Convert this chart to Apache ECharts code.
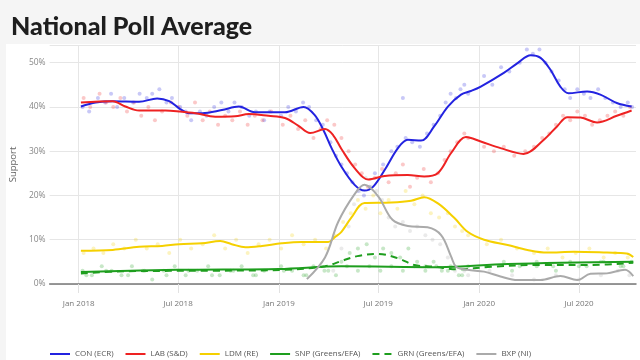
<!DOCTYPE html>
<html>
<head>
<meta charset="utf-8">
<script src="https://cdn.jsdelivr.net/npm/echarts@6/dist/echarts.min.js"></script>
<style>
html,body{margin:0;padding:0;background:#f5f5f5;}
#chart{width:640px;height:360px;}
</style>
</head>
<body>
<div id="chart"></div>
<script>
// ---- tick labels ----
const tickDates = ['2018-01-01','2018-07-01','2019-01-01','2019-07-01','2020-01-01','2020-07-01'];
const tickLabels = ['Jan 2018','Jul 2018','Jan 2019','Jul 2019','Jan 2020','Jul 2020'];
const partyNames = ['CON (ECR)','LAB (S&D)','LDM (RE)','SNP (Greens/EFA)','GRN (Greens/EFA)','BXP (NI)'];

// ---- trend lines [date, %] ----
const conLine = [['2018-01-05',40.1],['2018-02-01',41.0],['2018-03-04',41.3],['2018-04-21',41.2],['2018-05-24',41.9],['2018-06-15',41.3],['2018-07-03',39.7],['2018-07-21',38.6],['2018-08-14',38.6],['2018-09-19',39.3],['2018-10-20',40.1],['2018-11-18',38.8],['2019-01-12',38.8],['2019-02-15',40.0],['2019-03-07',38.2],['2019-03-23',34.8],['2019-04-07',30.7],['2019-04-25',26.5],['2019-05-19',22.4],['2019-06-06',21.1],['2019-06-22',22.0],['2019-07-13',25.8],['2019-08-06',30.7],['2019-08-24',32.6],['2019-09-17',32.4],['2019-10-11',35.6],['2019-11-05',40.1],['2019-11-29',42.8],['2019-12-17',43.6],['2020-01-04',44.6],['2020-02-15',47.7],['2020-03-11',49.9],['2020-04-04',51.7],['2020-04-22',51.1],['2020-05-10',48.4],['2020-05-28',44.6],['2020-06-12',43.1],['2020-07-16',43.5],['2020-08-09',42.8],['2020-09-08',40.9],['2020-10-05',40.1]];
const labLine = [['2018-01-05',41.0],['2018-03-04',41.3],['2018-03-27',40.1],['2018-04-21',39.2],['2018-06-08',39.2],['2018-07-03',39.0],['2018-08-02',38.6],['2018-09-07',37.8],['2018-10-13',37.9],['2018-11-07',38.4],['2018-12-13',38.0],['2019-01-12',37.5],['2019-02-05',35.8],['2019-02-27',34.1],['2019-03-26',35.0],['2019-04-10',33.6],['2019-04-25',30.5],['2019-05-19',26.2],['2019-06-13',23.6],['2019-07-13',24.4],['2019-08-24',24.6],['2019-09-23',24.3],['2019-10-18',25.1],['2019-11-11',29.6],['2019-12-08',33.2],['2020-01-04',32.2],['2020-02-09',30.7],['2020-03-22',29.4],['2020-04-28',32.6],['2020-05-22',35.6],['2020-06-10',37.7],['2020-07-04',37.6],['2020-08-03',36.5],['2020-09-08',38.0],['2020-10-05',39.2]];
const ldmLine = [['2018-01-05',7.5],['2018-03-04',7.7],['2018-04-21',8.4],['2018-06-02',8.6],['2018-07-03',9.0],['2018-08-14',9.2],['2018-09-16',9.7],['2018-10-07',9.0],['2018-11-01',8.3],['2018-12-01',8.6],['2019-01-06',9.2],['2019-02-12',9.5],['2019-04-01',9.5],['2019-04-13',10.6],['2019-04-25',11.8],['2019-05-13',15.0],['2019-06-06',18.3],['2019-07-25',18.4],['2019-08-30',18.8],['2019-09-23',19.6],['2019-10-18',18.2],['2019-11-17',14.9],['2019-12-11',11.8],['2020-01-10',10.0],['2020-02-22',8.8],['2020-03-29',7.7],['2020-05-04',7.1],['2020-06-22',7.3],['2020-08-21',7.1],['2020-09-26',6.9],['2020-10-08',6.1]];
const snpLine = [['2018-01-05',2.7],['2018-07-01',3.2],['2019-01-01',3.4],['2019-04-25',4.0],['2019-10-18',3.8],['2020-02-22',4.5],['2020-10-08',5.0]];
const grnLine = [['2018-01-05',2.4],['2018-04-01',2.9],['2018-09-01',3.0],['2019-01-10',3.2],['2019-03-26',4.0],['2019-04-25',5.2],['2019-05-24',6.3],['2019-07-01',6.8],['2019-08-06',5.8],['2019-09-05',4.3],['2019-10-11',3.9],['2019-11-23',3.3],['2020-01-22',3.9],['2020-04-22',4.3],['2020-07-22',4.3],['2020-10-08',4.8]];
const bxpLine = [['2019-02-21',1.1],['2019-03-26',6.0],['2019-04-19',14.0],['2019-05-19',20.3],['2019-06-06',22.4],['2019-07-01',19.8],['2019-07-27',14.5],['2019-08-24',13.1],['2019-09-29',12.8],['2019-10-24',11.0],['2019-11-11',6.2],['2019-11-20',3.9],['2019-12-11',3.2],['2020-01-10',2.8],['2020-02-09',1.7],['2020-03-11',0.9],['2020-04-22',0.9],['2020-05-28',1.8],['2020-06-28',0.9],['2020-07-22',2.3],['2020-08-21',2.4],['2020-09-23',3.2],['2020-10-08',1.8]];

// ---- individual polls [date, %] ----
const conPolls = [['2018-01-08',40],['2018-01-20',39],['2018-02-05',42],['2018-02-18',41],['2018-03-01',43],['2018-03-12',40],['2018-03-25',42],['2018-04-10',41],['2018-04-22',43],['2018-05-05',42],['2018-05-15',43],['2018-05-28',44],['2018-06-10',41],['2018-06-20',42],['2018-07-05',40],['2018-07-15',39],['2018-07-25',37],['2018-08-10',39],['2018-08-22',38],['2018-09-05',40],['2018-09-18',41],['2018-10-01',39],['2018-10-12',41],['2018-10-25',40],['2018-11-08',38],['2018-11-20',39],['2018-12-05',37],['2018-12-15',39],['2019-01-05',38],['2019-01-18',40],['2019-02-01',39],['2019-02-14',41],['2019-02-25',40],['2019-03-10',37],['2019-03-22',36],['2019-04-05',32],['2019-04-15',29],['2019-04-25',27],['2019-05-05',25],['2019-05-15',23],['2019-05-25',21],['2019-06-05',20],['2019-06-15',22],['2019-06-25',25],['2019-07-10',27],['2019-07-25',30],['2019-08-05',31],['2019-08-15',42],['2019-08-20',33],['2019-09-01',32],['2019-09-15',31],['2019-09-28',34],['2019-10-10',36],['2019-10-22',38],['2019-11-01',41],['2019-11-10',43],['2019-11-20',42],['2019-11-28',44],['2019-12-05',45],['2019-12-12',43],['2020-01-10',47],['2020-01-25',45],['2020-02-10',49],['2020-02-25',48],['2020-03-15',50],['2020-03-28',53],['2020-04-08',52],['2020-04-20',53],['2020-05-01',50],['2020-05-12',48],['2020-05-25',46],['2020-06-05',44],['2020-06-15',42],['2020-06-28',44],['2020-07-10',43],['2020-07-22',42],['2020-08-05',44],['2020-08-18',42],['2020-09-01',41],['2020-09-15',40],['2020-09-28',41],['2020-10-06',40]];
const labPolls = [['2018-01-10',42],['2018-01-22',40],['2018-02-08',43],['2018-02-20',41],['2018-03-05',40],['2018-03-18',42],['2018-03-30',39],['2018-04-12',41],['2018-04-25',38],['2018-05-08',40],['2018-05-20',37],['2018-06-02',39],['2018-06-18',41],['2018-07-02',40],['2018-07-18',38],['2018-08-01',41],['2018-08-15',37],['2018-08-28',39],['2018-09-12',36],['2018-09-25',38],['2018-10-08',37],['2018-10-22',39],['2018-11-05',36],['2018-11-18',38],['2018-12-02',37],['2018-12-18',39],['2019-01-08',36],['2019-01-22',38],['2019-02-05',35],['2019-02-18',37],['2019-03-05',33],['2019-03-18',35],['2019-03-30',37],['2019-04-12',36],['2019-04-25',33],['2019-05-08',30],['2019-05-20',27],['2019-06-01',25],['2019-06-12',22],['2019-06-25',24],['2019-07-08',26],['2019-07-20',23],['2019-08-02',25],['2019-08-15',27],['2019-08-28',22],['2019-09-10',24],['2019-09-22',26],['2019-10-05',23],['2019-10-18',25],['2019-10-30',28],['2019-11-10',30],['2019-11-22',32],['2019-12-05',34],['2019-12-12',33],['2020-01-10',31],['2020-01-28',30],['2020-02-15',31],['2020-03-05',29],['2020-03-25',30],['2020-04-10',31],['2020-04-25',33],['2020-05-08',34],['2020-05-20',36],['2020-06-02',38],['2020-06-15',37],['2020-06-28',39],['2020-07-12',38],['2020-07-25',36],['2020-08-08',37],['2020-08-22',38],['2020-09-05',39],['2020-09-20',38],['2020-10-02',40]];
const ldmPolls = [['2018-01-10',7],['2018-01-28',8],['2018-02-15',7],['2018-03-05',9],['2018-03-25',8],['2018-04-15',10],['2018-05-05',8],['2018-05-25',9],['2018-06-15',7],['2018-07-05',10],['2018-07-25',8],['2018-08-15',9],['2018-09-05',11],['2018-09-25',8],['2018-10-15',10],['2018-11-05',7],['2018-11-25',9],['2018-12-15',10],['2019-01-05',8],['2019-01-25',11],['2019-02-15',9],['2019-03-08',10],['2019-03-28',8],['2019-04-12',11],['2019-04-28',14],['2019-05-12',16],['2019-05-25',19],['2019-06-08',17],['2019-06-22',20],['2019-07-05',16],['2019-07-20',19],['2019-08-05',17],['2019-08-20',21],['2019-09-05',18],['2019-09-20',20],['2019-10-05',16],['2019-10-20',15],['2019-11-05',16],['2019-11-18',13],['2019-12-01',12],['2019-12-12',11],['2020-01-15',9],['2020-02-10',10],['2020-03-10',8],['2020-04-10',7],['2020-05-05',8],['2020-06-01',6],['2020-06-25',7],['2020-07-20',8],['2020-08-15',6],['2020-09-05',7],['2020-09-28',6]];
const snpPolls = [['2018-01-08',3],['2018-01-25',2],['2018-02-12',4],['2018-03-02',3],['2018-03-20',2],['2018-04-08',4],['2018-04-28',3],['2018-05-15',1],['2018-06-05',3],['2018-06-25',4],['2018-07-15',2],['2018-08-05',3],['2018-08-25',4],['2018-09-15',2],['2018-10-05',3],['2018-10-25',4],['2018-11-15',2],['2018-12-05',3],['2019-01-05',4],['2019-01-25',3],['2019-02-15',2],['2019-03-05',4],['2019-03-25',3],['2019-04-15',2],['2019-05-05',4],['2019-05-25',3],['2019-06-15',4],['2019-07-05',3],['2019-07-25',4],['2019-08-15',3],['2019-09-05',4],['2019-09-25',3],['2019-10-15',4],['2019-11-05',3],['2019-11-25',2],['2019-12-12',4],['2020-01-15',4],['2020-02-15',5],['2020-03-15',4],['2020-04-15',5],['2020-05-15',4],['2020-06-15',5],['2020-07-15',4],['2020-08-15',5],['2020-09-15',4],['2020-10-05',5]];
const grnPolls = [['2018-01-15',2],['2018-02-20',3],['2018-04-01',2],['2018-05-01',3],['2018-06-10',2],['2018-07-20',3],['2018-09-01',2],['2018-10-10',3],['2018-11-20',2],['2019-01-10',3],['2019-02-20',2],['2019-04-01',3],['2019-04-25',5],['2019-05-10',7],['2019-05-25',8],['2019-06-10',9],['2019-06-25',6],['2019-07-10',8],['2019-07-25',7],['2019-08-10',6],['2019-08-25',8],['2019-09-10',5],['2019-09-25',4],['2019-10-10',5],['2019-10-25',3],['2019-11-10',4],['2019-12-01',2],['2020-01-20',4],['2020-03-01',3],['2020-04-15',4],['2020-05-20',3],['2020-07-01',4],['2020-08-10',5],['2020-09-20',4]];
const bxpPolls = [['2019-04-10',3],['2019-04-25',8],['2019-05-08',13],['2019-05-18',18],['2019-05-28',21],['2019-06-08',24],['2019-06-18',22],['2019-06-28',21],['2019-07-08',19],['2019-07-20',15],['2019-08-01',13],['2019-08-15',14],['2019-08-28',12],['2019-09-10',13],['2019-09-25',11],['2019-10-08',10],['2019-10-22',9],['2019-11-05',6],['2019-11-18',3],['2019-12-05',3],['2019-12-12',2],['2020-01-20',3],['2020-03-01',2],['2020-04-10',1],['2020-05-20',2],['2020-07-01',1],['2020-08-10',2],['2020-09-10',3],['2020-10-01',2]];

function ts(s){const p=s.split('-');return Date.UTC(+p[0],+p[1]-1,+p[2]);}
function conv(arr){return arr.map(d=>[ts(d[0]),d[1]]);}

const colors = ['#2323e0','#ee2222','#f5d000','#1e9e1e','#1e9e1e','#aaaaaa'];
const lines = [conLine,labLine,ldmLine,snpLine,grnLine,bxpLine];
const polls = [conPolls,labPolls,ldmPolls,snpPolls,grnPolls,bxpPolls];
const tickTs = tickDates.map(ts);

const series = [];
polls.forEach((p,i)=>{
  series.push({name:'polls'+i,type:'scatter',data:conv(p),symbol:'circle',symbolSize:4,
    itemStyle:{color:colors[i],opacity:0.25},silent:true,z:1});
});
lines.forEach((l,i)=>{
  series.push({name:partyNames[i],type:'line',data:conv(l),smooth:0.35,symbol:'none',showSymbol:false,
    lineStyle:{color:colors[i],width:2,type:i===4?[7,5]:'solid'},itemStyle:{color:colors[i]},z:3});
});

const chart = echarts.init(document.getElementById('chart'));
chart.setOption({
  backgroundColor:'#f5f5f5',
  animation:false,
  textStyle:{fontFamily:'Open Sans'},
  title:{text:'National Poll Average',left:6,top:9,
    textStyle:{fontFamily:'Lato',fontWeight:900,fontSize:25,color:'#1e1e1e'}},
  graphic:[{type:'rect',left:6,top:44,shape:{width:640,height:320},style:{fill:'#ffffff'},z:-10,silent:true}],
  grid:{left:47,right:4,top:45,bottom:76},
  legend:{data:partyNames,left:44,top:345,itemWidth:20,itemHeight:8,itemGap:11,
    itemStyle:{opacity:0},
    textStyle:{color:'#555',fontSize:8,fontFamily:'Open Sans'}},
  xAxis:{type:'value',min:ts('2017-11-09'),max:ts('2020-10-13'),
    axisLine:{show:true,lineStyle:{color:'#777',width:1.5}},
    axisTick:{show:true,customValues:tickTs,length:9,lineStyle:{color:'#e2e2e2'}},
    axisLabel:{customValues:tickTs,color:'#777',fontSize:8,margin:16,
      formatter:function(v){const k=tickTs.indexOf(v);return k>=0?tickLabels[k]:'';}},
    splitLine:{show:true,lineStyle:{color:'#e6e6e6'}}},
  yAxis:{type:'value',min:0,max:54,interval:10,name:'Support',nameLocation:'middle',nameGap:25,
    nameTextStyle:{color:'#666',fontSize:9.5},
    axisLine:{show:false},axisTick:{show:false},
    axisLabel:{color:'#888',fontSize:8.5,margin:4,formatter:function(v){return v%10===0?v+'%':'';}},
    splitLine:{lineStyle:{color:'#e6e6e6'}}},
  series:series
});
</script>
</body>
</html>
